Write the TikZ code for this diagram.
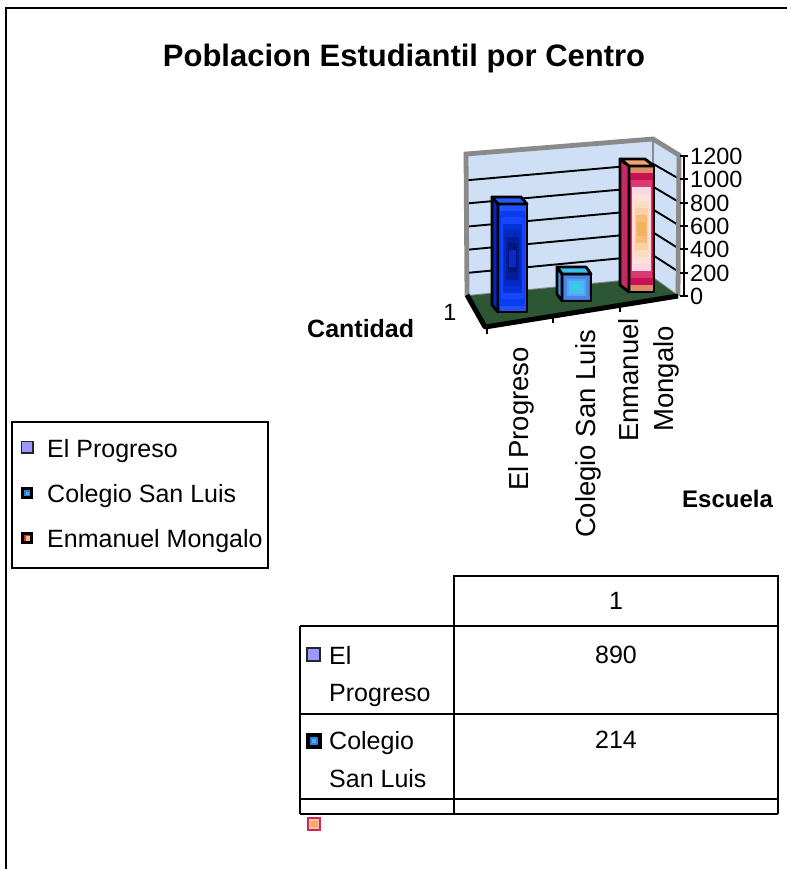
\documentclass[tikz,border=0pt]{standalone}
\usepackage{fontspec}
\setmainfont{Liberation Sans}
\newcommand\fsz[1]{\fontsize{#1}{#1}\selectfont}
\definecolor{wallc}{HTML}{CFE0F6}
\definecolor{wallframe}{HTML}{8A8A8A}
\definecolor{floorc}{HTML}{2C5634}
\definecolor{lav}{HTML}{9999FF}
\definecolor{midblue}{HTML}{3A78DC}
\definecolor{cyanc}{HTML}{38B8E8}
\definecolor{crim}{HTML}{D02858}
\definecolor{peach}{HTML}{F6C0A0}
\definecolor{peachb}{HTML}{F8BC84}
\definecolor{orng}{HTML}{F4A860}
\definecolor{bside}{HTML}{0626C0}
\definecolor{btop}{HTML}{2A5AFF}
\definecolor{cside}{HTML}{3C9AE6}
\definecolor{ctop}{HTML}{38C0F0}
\definecolor{pside}{HTML}{C42A64}
\definecolor{ptop}{HTML}{F2A46C}
\newcommand\ringrect[7]{%
  \foreach \c [count=\i from 0] in {#7} {%
    \edef\tmpdef{\noexpand\definecolor{tmpc}{HTML}{\c}}\tmpdef
    \fill[tmpc] ({#1+\i*#5},{#2+\i*#6}) rectangle ({#3-\i*#5},{#4-\i*#6});
  }%
}
\begin{document}
\begin{tikzpicture}[x=1pt,y=-1pt,
  txt/.style={inner sep=0pt, font=\fsz{25}},
  axl/.style={inner sep=0pt, font=\fsz{23.5}, anchor=base west},
  cat/.style={inner sep=0pt, font=\fsz{27.5}, rotate=90, anchor=base},
  bold/.style={inner sep=0pt, font=\bfseries\fsz{25}},
  barline/.style={line width=2.8pt, line join=round, draw=black},
  gridl/.style={line width=1.9pt, black},
  tline/.style={line width=2.2pt, black}]
\useasboundingbox (0,0) rectangle (787,869);
\fill[white] (0,0) rectangle (787,869);
% outer frame
\draw[line width=2.2pt] (6,869) -- (6,8) -- (787,8);
% title
\node[inner sep=0pt, font=\bfseries\fsz{31}, anchor=base] (title) at (404,67) {Poblacion Estudiantil por Centro};
% walls
\fill[wallc] (466,154) -- (653,139) -- (653,278) -- (468,296) -- cycle;
\fill[wallc] (653,139) -- (679,155) -- (678,296) -- (653,278) -- cycle;
\draw[wallframe, line width=1.2pt] (653,139) -- (653,278);
\draw[wallframe, line width=2pt] (468,296) -- (653,278) -- (678,296);
\foreach \v in {200,400,...,1000} {
  \draw[gridl] (468,{296-\v/1200*139}) -- (653,{278-\v/1200*137}) -- (680,{296-\v/1200*140});
}
\draw[wallframe, line width=4.8pt, line join=miter] (467,296) -- (466,154) -- (653,139) -- (679,155) -- (678,296);
% floor
\fill[floorc] (468,296) -- (653,278) -- (678,296) -- (485,326) -- cycle;
\draw[line width=5pt, line join=round] (467,295) -- (485,327) -- (678,296);
\draw[line width=1.8pt] (487,328) -- (487,334);
\draw[line width=1.8pt] (553,317) -- (553,323);
\draw[line width=1.8pt] (620,306) -- (620,312);
% value axis
\draw[line width=1.8pt] (684,156) -- (684,296);
\foreach \v in {0,200,...,1200} {
  \draw[line width=1.8pt] (680,{296-\v/1200*140}) -- (688,{296-\v/1200*140});
  \node[axl] (ax\v) at (690,{296-\v/1200*140+8.5}) {\v};
}
% bar El Progreso
\fill[bside] (492,197) -- (498,204) -- (498,312) -- (492,305) -- cycle;
\fill[btop] (492,197) -- (521,197) -- (527,204) -- (498,204) -- cycle;
\ringrect{498}{204}{527}{312}{1.6}{6.5}{2050FF,0A3CF0,1446FF,0630D8,0428C0,031E9C,02167F,0A2AC8}
\draw[barline] (498,204) rectangle (527,312);
\draw[barline] (492,197) -- (498,204) -- (498,312) -- (492,305) -- cycle;
\draw[barline] (492,197) -- (521,197) -- (527,204) -- (498,204) -- cycle;
% bar Colegio San Luis
\fill[cside] (557,267) -- (562,274) -- (562,301) -- (557,294) -- cycle;
\fill[ctop] (557,267) -- (586,267) -- (591,274) -- (562,274) -- cycle;
\ringrect{562}{274}{591}{301}{2.4}{2.4}{3C6CE0,4A86EA,56A4F0,48BCEE,30CCEE}
\draw[barline] (562,274) rectangle (591,301);
\draw[barline] (557,267) -- (562,274) -- (562,301) -- (557,294) -- cycle;
\draw[barline] (557,267) -- (586,267) -- (591,274) -- (562,274) -- cycle;
% bar Enmanuel Mongalo
\fill[pside] (620,159) -- (629,166) -- (629,292) -- (620,285) -- cycle;
\fill[ptop] (620,159) -- (645,159) -- (654,166) -- (629,166) -- cycle;
\ringrect{629}{166}{654}{292}{1.0}{7}{E08A68,C81058,D83A70,FCD6E2,FDE2DC,FCDCC0,FAD0A8,F8BC78,F5B060}
\draw[barline] (629,166) rectangle (654,292);
\draw[barline] (620,159) -- (629,166) -- (629,292) -- (620,285) -- cycle;
\draw[barline] (620,159) -- (645,159) -- (654,166) -- (629,166) -- cycle;
% axis texts
\node[inner sep=0pt, font=\fsz{23.5}, anchor=base] (one) at (450,320) {1};
\node[bold, anchor=base west] (cant) at (307,337) {Cantidad};
\node[bold, font=\bfseries\fsz{24}, anchor=base west] (esc) at (682,507) {Escuela};
\node[cat] (c1) at (528,419) {El Progreso};
\node[cat] (c2) at (595,434) {Colegio San Luis};
\node[cat] (c3a) at (638,380) {Enmanuel};
\node[cat] (c3b) at (673,379) {Mongalo};
% legend
\draw[line width=2pt] (12,422) rectangle (268,568);
\draw[fill=lav, draw=black!85, line width=1.2pt] (21.5,441.5) rectangle (33,453);
\fill[black] (20.5,486.5) rectangle (33,499);
\fill[midblue] (23.5,489.5) rectangle (30,496);
\fill[cyanc] (25.5,491.5) rectangle (29,494.5);
\fill[black] (20.5,531.5) rectangle (33,544);
\fill[crim] (23.5,534.5) rectangle (30,541);
\fill[peachb] (25.5,536) rectangle (30,541);
\node[txt, anchor=base west] (l1) at (47,457) {El Progreso};
\node[txt, anchor=base west] (l2) at (47,502) {Colegio San Luis};
\node[txt, anchor=base west] (l3) at (47,547) {Enmanuel Mongalo};
% table
\draw[tline] (454,626) -- (454,576) -- (778,576) -- (778,814);
\draw[tline] (300,626) -- (778,626);
\draw[tline] (300,714) -- (778,714);
\draw[tline] (300,799) -- (778,799);
\draw[tline] (300,814) -- (778,814);
\draw[tline] (300,626) -- (300,814);
\draw[tline] (454,626) -- (454,814);
\node[txt, anchor=base] (h1) at (616,609) {1};
\node[txt, anchor=base] (v1) at (616,663) {890};
\node[txt, anchor=base] (v2) at (616,748) {214};
\draw[fill=lav, draw=black!85, line width=1.2pt] (307,648) rectangle (320,661);
\node[txt, anchor=base west] (t1a) at (329,664) {El};
\node[txt, anchor=base west] (t1b) at (329,701) {Progreso};
\fill[black] (306,733) rectangle (322,749);
\fill[midblue] (310,737) rectangle (318,745);
\fill[cyanc] (312,739) rectangle (316,743);
\node[txt, anchor=base west] (t2a) at (329,749) {Colegio};
\node[txt, anchor=base west] (t2b) at (329,787) {San Luis};
\fill[crim] (307,817) rectangle (321,831);
\fill[peach] (309,819) rectangle (319,829);
\fill[orng] (311,821) rectangle (317,827);
\end{tikzpicture}
\end{document}
